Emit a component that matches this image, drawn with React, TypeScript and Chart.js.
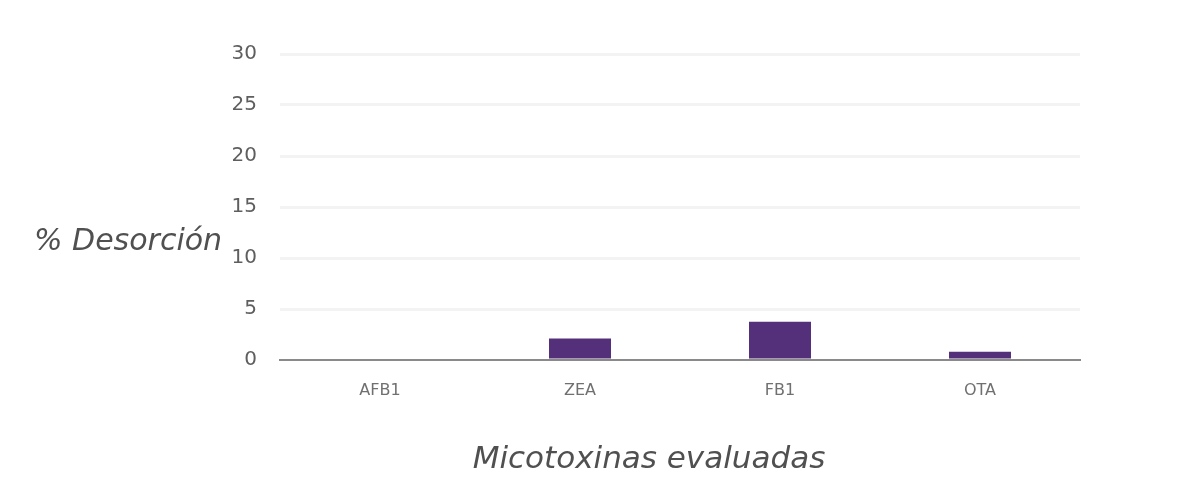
import React, { useEffect, useRef } from "react";
import { Chart, registerables } from "chart.js";

Chart.register(...registerables);

const categories = ["AFB1", "ZEA", "FB1", "OTA"];
const desorcion = [0, 2.1, 3.75, 0.8];
const yTicks = [0, 5, 10, 15, 20, 25, 30];
const yTitle = "% Desorción";
const xTitle = "Micotoxinas evaluadas";

const titlePlugin = {
  id: "customTitles",
  afterDraw(chart: any) {
    const { ctx } = chart;
    ctx.save();
    ctx.fillStyle = "#505050";
    ctx.textBaseline = "middle";
    ctx.textAlign = "left";
    ctx.font = "italic 30px 'DejaVu Sans'";
    ctx.fillText(yTitle, 34, 242);
    ctx.textAlign = "center";
    ctx.font = "italic 31px 'DejaVu Sans'";
    ctx.fillText(xTitle, 649, 460);
    ctx.restore();
  },
};

export default function App() {
  const ref = useRef<HTMLCanvasElement>(null);
  useEffect(() => {
    if (!ref.current) return;
    const chart = new Chart(ref.current, {
      type: "bar",
      data: {
        labels: categories,
        datasets: [
          {
            data: desorcion,
            backgroundColor: "#54307b",
            borderWidth: 0,
            barPercentage: 0.31,
            categoryPercentage: 1,
          },
        ],
      },
      options: {
        animation: false,
        responsive: true,
        maintainAspectRatio: false,
        layout: { padding: { left: 220, right: 120, top: 54, bottom: 0 } },
        plugins: { legend: { display: false }, tooltip: { enabled: false } },
        scales: {
          x: {
            grid: { display: false, drawTicks: false },
            border: { display: true, color: "#8a8a8a", width: 2 },
            ticks: {
              color: "#707070",
              font: { family: "'DejaVu Sans'", size: 16 },
              padding: 21,
            },
            afterFit(scale: any) {
              scale.height = 140;
            },
          },
          y: {
            min: 0,
            max: 30,
            afterBuildTicks(scale: any) {
              scale.ticks = yTicks.map((v) => ({ value: v }));
            },
            grid: {
              drawTicks: false,
              lineWidth: 3,
              color: (c: any) => (c.tick && c.tick.value === 0 ? "rgba(0,0,0,0)" : "#f3f3f3"),
            },
            border: { display: false },
            ticks: {
              color: "#5e5e5e",
              font: { family: "'DejaVu Sans'", size: 20 },
              padding: 23,
            },
            afterFit(scale: any) {
              scale.width = 60;
            },
          },
        },
      },
      plugins: [titlePlugin],
    });
    return () => chart.destroy();
  }, []);
  return (
    <div style={{ position: "fixed", left: 0, top: 0, width: 1200, height: 500, background: "#fff" }}>
      <canvas ref={ref} />
    </div>
  );
}
